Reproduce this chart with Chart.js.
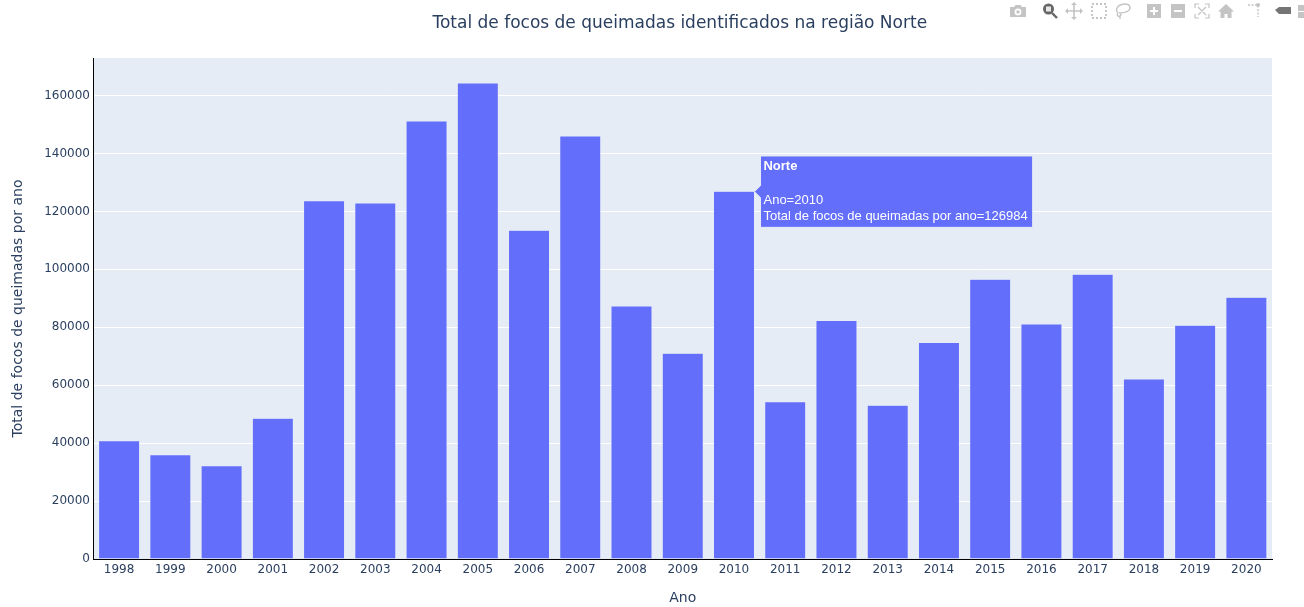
<!DOCTYPE html>
<html lang="pt">
<head>
<meta charset="utf-8">
<title>Total de focos de queimadas</title>
<script src="https://cdn.jsdelivr.net/npm/chart.js@4"></script>
<style>
html,body{margin:0;padding:0;background:#fff;overflow:hidden}
#wrap{position:relative;width:1304px;height:607px}
canvas{position:absolute;left:0;top:0}
#bar svg{position:absolute;top:2px;overflow:visible}
</style>
</head>
<body>
<div id="wrap">
<canvas id="c" width="1304" height="607"></canvas>
<div id="bar">
<svg style="left:1009px" width="18" height="18" viewBox="0 0 18 18"><path fill="#c4c4c4" fill-rule="evenodd" d="M1 5h4l1.500-2h5L13 5h4v10H1zM9 6.500a3.400 3.400 0 1 0 0 6.800a3.400 3.400 0 0 0 0-6.800zM9 8.200a1.700 1.700 0 1 1 0 3.400a1.700 1.700 0 0 1 0-3.400z"/></svg>
<svg style="left:1041px" width="18" height="18" viewBox="0 0 18 18"><circle cx="7.500" cy="7" r="5.500" fill="#666"/><rect x="5" y="4.500" width="5" height="5" fill="#fff" fill-opacity="0.85"/><path stroke="#666" stroke-width="2.400" d="M11 11l5 5"/></svg>
<svg style="left:1065px" width="18" height="18" viewBox="0 0 18 18"><path fill="none" stroke="#c4c4c4" stroke-width="1.600" d="M9 2v14M2 9h14"/><path fill="#c4c4c4" d="M9 0l3 3H6zM9 18l-3-3h6zM0 9l3-3v6zM18 9l-3 3V6z"/></svg>
<svg style="left:1090px" width="18" height="18" viewBox="0 0 18 18"><rect x="2" y="2" width="14" height="14" fill="none" stroke="#c4c4c4" stroke-width="1.800" stroke-dasharray="2 2"/></svg>
<svg style="left:1114px" width="18" height="18" viewBox="0 0 18 18"><path fill="none" stroke="#c4c4c4" stroke-width="1.400" d="M4 11C0 7 5 2 11 2s6 5 3 7s-6 2-9 2M4 11c-2 2 0 4 2 3s0-4-1-3M6 14l0 3"/></svg>
<svg style="left:1145px" width="18" height="18" viewBox="0 0 18 18"><path fill="#c4c4c4" fill-rule="evenodd" d="M2 2h14v14H2zM8 5v3H5v2h3v3h2v-3h3V8h-3V5z"/></svg>
<svg style="left:1169px" width="18" height="18" viewBox="0 0 18 18"><path fill="#c4c4c4" fill-rule="evenodd" d="M2 2h14v14H2zM5 8v2h8V8z"/></svg>
<svg style="left:1193px" width="18" height="18" viewBox="0 0 18 18"><path fill="none" stroke="#c4c4c4" stroke-width="1.200" d="M2 6V2h4M12 2h4v4M16 12v4h-4M6 16H2v-4M5 5l8 8M13 5l-8 8"/></svg>
<svg style="left:1217px" width="18" height="18" viewBox="0 0 18 18"><path fill="#c4c4c4" d="M9 2L1 9.500h2.500V16h4v-4h3v4h4V9.500H17z"/></svg>
<svg style="left:1245px" width="18" height="18" viewBox="0 0 18 18"><path fill="none" stroke="#c4c4c4" stroke-width="1.400" stroke-dasharray="2 1.500" d="M3 3h10v12"/><circle cx="13" cy="3" r="2" fill="#c4c4c4"/></svg>
<svg style="left:1274px" width="18" height="18" viewBox="0 0 18 18"><path fill="#757575" d="M1 8l4-3h12v7H5z"/></svg>
<svg style="left:1298px" width="18" height="18" viewBox="0 0 18 18"><path fill="#c4c4c4" d="M0 3h10l3 3-3 3H0zM0 10h10l3 3-3 3H0z"/></svg>
</div>
</div>
<script>
const categories = ['1998','1999','2000','2001','2002','2003','2004','2005','2006','2007','2008','2009','2010','2011','2012','2013','2014','2015','2016','2017','2018','2019','2020'];
const seriesValues = [40800,36000,32200,48600,123700,122900,151200,164300,113500,146000,87300,71000,126984,54300,82300,53100,74700,96600,81100,98300,62100,80700,90400];
const seriesName = 'Norte';
const chartTitle = 'Total de focos de queimadas identificados na região Norte';
const xTitle = 'Ano';
const yTitle = 'Total de focos de queimadas por ano';
const hoverLabel = 'Total de focos de queimadas por ano';
const hoveredIndex = 12;

const font = '"DejaVu Sans", Verdana, sans-serif';
const ink = '#2a3f5f';

Chart.Tooltip.positioners.hoverBar = function () {
  const el = this.chart.getDatasetMeta(0).data[hoveredIndex];
  if (!el) return false;
  return { x: el.x + el.width / 2, y: el.y + 0.5 };
};

const panelPlugin = {
  id: 'panel',
  afterLayout(chart) {
    if (chart.titleBlock) { chart.titleBlock.left -= 3; chart.titleBlock.right -= 3; }
  },
  beforeDraw(chart) {
    const a = chart.chartArea, ctx = chart.ctx;
    ctx.save();
    ctx.fillStyle = '#E5ECF6';
    ctx.fillRect(a.left, a.top, a.right - a.left, a.bottom - a.top);
    ctx.restore();
  }
};

const chart = new Chart(document.getElementById('c'), {
  type: 'bar',
  plugins: [panelPlugin],
  data: {
    labels: categories,
    datasets: [{
      label: seriesName,
      data: seriesValues,
      backgroundColor: '#636efa',
      borderColor: '#E5ECF6',
      borderWidth: 0.5,
      barPercentage: 0.8,
      categoryPercentage: 1
    }]
  },
  options: {
    responsive: false,
    animation: false,
    events: [],
    layout: { padding: { top: 0, right: 32, bottom: 0, left: 0 } },
    scales: {
      x: {
        afterFit(s) { s.height = 48; },
        grid: { drawOnChartArea: false, drawTicks: false },
        border: { color: '#000', width: 1 },
        ticks: { color: ink, font: { family: font, size: 12 }, padding: 4, maxRotation: 0, autoSkip: false },
        title: { display: true, text: xTitle, color: ink, font: { family: font, size: 14 }, padding: { top: 0, bottom: 0 } }
      },
      y: {
        min: 0,
        max: 172950,
        afterFit(s) { s.width = 93.5; },
        grid: { color: '#ffffff', lineWidth: 1, drawTicks: false },
        border: { color: '#000', width: 1 },
        ticks: { includeBounds: false, color: ink, font: { family: font, size: 12 }, padding: 3.5, callback: v => String(v) },
        title: { display: true, text: yTitle, color: ink, font: { family: font, size: 14 }, padding: { top: 10, bottom: 0 } }
      }
    },
    plugins: {
      legend: { display: false },
      title: {
        display: true,
        text: chartTitle,
        fullSize: false,
        color: ink,
        font: { family: font, size: 17, weight: 'normal' },
        padding: { top: 13, bottom: 24.6 }
      },
      tooltip: {
        enabled: true,
        position: 'hoverBar',
        xAlign: 'left',
        yAlign: 'center',
        backgroundColor: '#636efa',
        borderColor: '#E5ECF6',
        borderWidth: 1,
        cornerRadius: 0,
        caretSize: 6,
        caretPadding: 0,
        displayColors: false,
        padding: { left: 3, right: 5, top: 3, bottom: 3 },
        titleColor: '#fff',
        bodyColor: '#fff',
        titleFont: { family: '"Liberation Sans", Arial, sans-serif', size: 13, weight: 'bold' },
        bodyFont: { family: '"Liberation Sans", Arial, sans-serif', size: 13, weight: 'normal' },
        titleMarginBottom: 1,
        titleSpacing: 1,
        bodySpacing: 1,
        callbacks: {
          title: items => [items[0].dataset.label, ' '],
          label: item => ['Ano=' + item.label, hoverLabel + '=' + item.raw]
        }
      }
    }
  }
});
chart.tooltip.setActiveElements([{ datasetIndex: 0, index: hoveredIndex }], { x: 0, y: 0 });
chart.update();
</script>
</body>
</html>
